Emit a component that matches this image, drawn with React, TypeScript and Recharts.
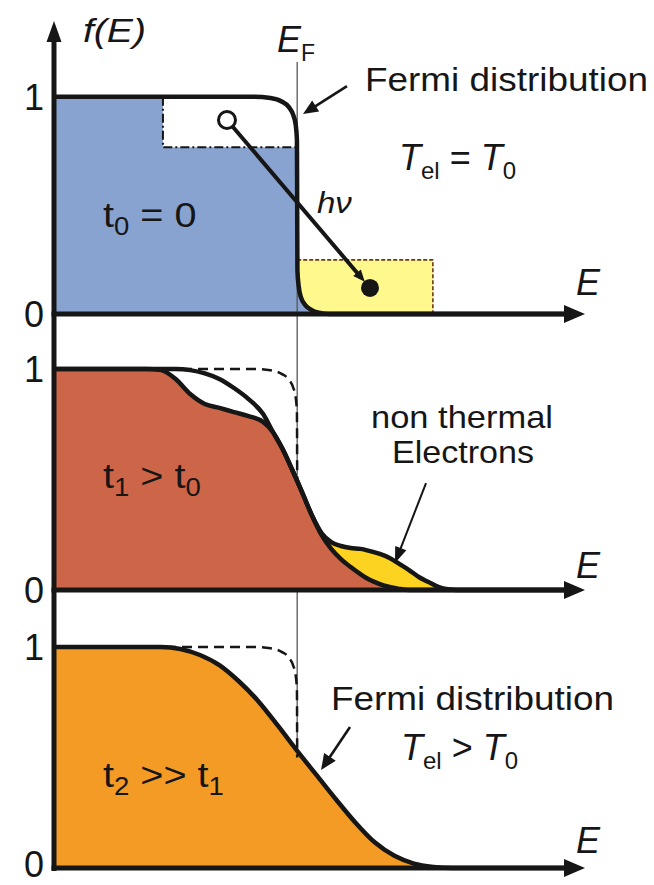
import React from 'react';
import { ComposedChart, Line, Area, XAxis, YAxis, ReferenceLine, ReferenceDot } from 'recharts';

// ---------------- data ----------------
const E_MAX = 11; // energy axis range (E_F = 5)
const E_FERMI = 5;
const Y_TICKS = [0, 1];

// Fermi distribution at T0 (panel 1 solid, panels 2/3 dashed)
const FERMI_T0_E = [0, 4.1, 4.45, 4.68, 4.83, 4.92, 4.97, 4.995, 5.0, 5.005, 5.03, 5.08, 5.17, 5.3, 5.45, 5.65, 10.5];
const FERMI_T0_F = [1, 1, 0.994, 0.978, 0.952, 0.915, 0.87, 0.8, 0.5, 0.2, 0.13, 0.075, 0.04, 0.018, 0.006, 0, 0];

// excitation by the photon: hole box and excited-electron box
const HOLE_E = [2.24, 5.0];
const HOLE_LEVEL = 0.767;
const EXCITED_E = [5.0, 7.79];
const EXCITED_LEVEL = 0.249;
const HOLE_STATE = { E: 3.557, f: 0.893 };
const EXCITED_STATE = { E: 6.497, f: 0.12 };

// panel 2: non-thermal vs thermal distribution
const P2_E = [0, 1.9, 2.2, 2.5, 2.8, 3.1, 3.4, 3.7, 4.0, 4.3, 4.5, 4.7, 4.9, 5.1, 5.3, 5.5, 5.7, 5.9, 6.1, 6.3, 6.5, 6.7, 6.9, 7.1, 7.3, 7.5, 7.7, 7.9, 8.1, 8.3, 8.6, 10.5];
const P2_NONTHERMAL = [1, 1, 0.995, 0.955, 0.887, 0.842, 0.824, 0.805, 0.787, 0.76, 0.715, 0.638, 0.543, 0.443, 0.339, 0.258, 0.217, 0.199, 0.19, 0.186, 0.176, 0.163, 0.145, 0.118, 0.09, 0.059, 0.036, 0.014, 0.003, 0, 0, 0];
const P2_THERMAL = [1, 1, 1, 1, 0.995, 0.98, 0.955, 0.914, 0.864, 0.796, 0.715, 0.638, 0.543, 0.443, 0.339, 0.249, 0.186, 0.14, 0.104, 0.072, 0.045, 0.027, 0.014, 0.005, 0, 0, 0, 0, 0, 0, 0, 0];

// panel 3: hot Fermi distribution
const P3_E = [0, 2.2, 2.6, 3.0, 3.4, 3.8, 4.2, 4.6, 5.0, 5.4, 5.8, 6.2, 6.6, 7.0, 7.4, 7.8, 8.2, 8.6, 10.5];
const P3_HOT = [1, 1, 0.991, 0.964, 0.918, 0.845, 0.755, 0.645, 0.53, 0.42, 0.31, 0.205, 0.115, 0.055, 0.02, 0.005, 0, 0, 0];

// ---------------- layout / style ----------------
const W = 654;
const PLOT_LEFT = 54;
const PLOT_RIGHT = 65;
const TICK_X = 34;
const FONT = '"Liberation Sans", Arial, Helvetica, sans-serif';
const INK = '#161616';
const BLUE = '#88A3CF';
const RED = '#CD6649';
const GOLD = '#FCD320';
const ORANGE = '#F49B26';
const PALE_YELLOW = '#FFF98D';

// top/height: the panel band on the page; extra: overlap of the svg into the next band
const PANELS = [
  { top: 0, height: 330, extra: 16, zeroY: 314, oneY: 96.7, zeroShift: 0 },
  { top: 330, height: 280, extra: 16, zeroY: 590, oneY: 369, zeroShift: 0 },
  { top: 610, height: 275, extra: 0, zeroY: 868, oneY: 647, zeroShift: -4 },
];
type Panel = typeof PANELS[number];
const fAt = (p: Panel, py: number) => (p.zeroY - py) / (p.zeroY - p.oneY);
const eAt = (px: number) => (px - PLOT_LEFT) / ((W - PLOT_RIGHT - PLOT_LEFT) / E_MAX);
const domainOf = (p: Panel): [number, number] => [fAt(p, p.top + p.height + p.extra), fAt(p, p.top)];
const MARGIN = { top: 0, right: PLOT_RIGHT, bottom: 0, left: 0 };

// ---------------- derived tables ----------------
const fermiRows = FERMI_T0_E.map((E, i) => ({ E, v: FERMI_T0_F[i] }));
const blueRows = [
  ...fermiRows.filter((r) => r.E < HOLE_E[0]),
  { E: HOLE_E[0], v: 1 },
  { E: HOLE_E[0], v: HOLE_LEVEL },
  ...fermiRows.filter((r) => r.E > HOLE_E[0]).map((r) => ({ E: r.E, v: Math.min(r.v, HOLE_LEVEL) })),
];
const excitedRows = [{ E: EXCITED_E[0], v: EXCITED_LEVEL }, { E: EXCITED_E[1], v: EXCITED_LEVEL }];
const excitedBorder = [...excitedRows, { E: EXCITED_E[1], v: 0 }];
const holeBorder = [{ E: HOLE_E[0], v: 1 }, { E: HOLE_E[0], v: HOLE_LEVEL }, { E: HOLE_E[1], v: HOLE_LEVEL }];
const dashedRef = fermiRows.filter((r) => r.v >= 0.5);
const p2Rows = P2_E.map((E, i) => ({ E, a: P2_NONTHERMAL[i], b: P2_THERMAL[i] }));
const p3Rows = P3_E.map((E, i) => ({ E, v: P3_HOT[i] }));

// ---------------- helpers ----------------
const arrowShape = (head: number, half: number, width: number, trim = 0) => (props: any) => {
  const { x1, y1, x2, y2 } = props;
  const dx = x2 - x1;
  const dy = y2 - y1;
  const len = Math.hypot(dx, dy) || 1;
  const ux = dx / len;
  const uy = dy / len;
  const tx = x2 - ux * trim;
  const ty = y2 - uy * trim;
  const bx = tx - ux * head;
  const by = ty - uy * head;
  const nx = -uy;
  const ny = ux;
  return (
    <g>
      <line x1={x1} y1={y1} x2={bx + ux * 2} y2={by + uy * 2} stroke={INK} strokeWidth={width} />
      <polygon points={`${tx},${ty} ${bx + nx * half},${by + ny * half} ${bx - nx * half},${by - ny * half}`} fill={INK} />
    </g>
  );
};

type AnnOpt = { anchor?: 'start' | 'middle' | 'end'; sx?: number; size?: number; italic?: boolean; len?: number };
const ann = (node: React.ReactNode, opt: AnnOpt = {}) => (p: any) => (
  <g transform={`translate(${p.cx},${p.cy}) scale(${opt.sx ?? 1},1)`}>
    <text
      x={0}
      y={0}
      textAnchor={opt.anchor ?? 'start'}
      fontFamily={FONT}
      fontSize={opt.size ?? 34}
      fontStyle={opt.italic ? 'italic' : 'normal'}
      fill={INK}
      textLength={opt.len}
      lengthAdjust={opt.len ? 'spacingAndGlyphs' : undefined}
    >
      {node}
    </text>
  </g>
);

const makeTick = (p: Panel) => (props: any) => (
  <text
    x={TICK_X}
    y={props.y + (props.payload.value === 0 ? p.zeroShift : 0)}
    dy="0.36em"
    textAnchor="middle"
    fontFamily={FONT}
    fontSize={36}
    fill={INK}
  >
    {props.payload.value}
  </text>
);

const lineProps = { dot: false, activeDot: false, isAnimationActive: false, strokeLinejoin: 'round' as const };

const sub = (main: string, s: string) => (
  <>
    <tspan fontStyle="italic">{main}</tspan>
    <tspan fontSize={24} dy={9}>{s}</tspan>
  </>
);

export default function App() {
  const [p1, p2, p3] = PANELS;
  const axes = (p: Panel, yFrom: number, yTo: number, yArrow: boolean) => [
    yArrow ? (
      <ReferenceLine key="ya" ifOverflow="visible" segment={[{ x: 0, y: fAt(p, yFrom) }, { x: 0, y: fAt(p, yTo) }]} shape={arrowShape(21, 7.5, 5)} />
    ) : (
      <ReferenceLine key="ya" ifOverflow="visible" segment={[{ x: 0, y: fAt(p, yFrom) }, { x: 0, y: fAt(p, yTo) }]} stroke={INK} strokeWidth={5} />
    ),
    <ReferenceLine key="xa" ifOverflow="visible" segment={[{ x: eAt(51.5), y: 0 }, { x: eAt(585), y: 0 }]} shape={arrowShape(21, 9, 5)} />,
  ];
  const commonAxes = (p: Panel) => [
    <XAxis key="x" type="number" dataKey="E" domain={[0, E_MAX]} allowDataOverflow hide />,
    <YAxis key="y" type="number" domain={domainOf(p)} allowDataOverflow ticks={Y_TICKS} axisLine={false} tickLine={false} width={PLOT_LEFT} tick={makeTick(p)} interval={0} />,
  ];
  const bandBottom = (p: Panel) => p.top + p.height;

  return (
    <div style={{ position: 'absolute', left: 0, top: 0, width: W, height: 885, background: '#fff' }}>
      {/* Panel 1 */}
      <div style={{ position: 'absolute', left: 0, top: p1.top }}>
        <ComposedChart width={W} height={p1.height + p1.extra} margin={MARGIN}>
          {commonAxes(p1)}
          <Area type="linear" data={excitedRows} dataKey="v" fill={PALE_YELLOW} fillOpacity={1} stroke="none" isAnimationActive={false} />
          <Area type="linear" data={blueRows} dataKey="v" fill={BLUE} fillOpacity={1} stroke="none" isAnimationActive={false} />
          <Line type="linear" data={[{ E: E_FERMI, v: fAt(p1, 62) }, { E: E_FERMI, v: fAt(p1, bandBottom(p1)) }]} dataKey="v" stroke="#555" strokeWidth={1.3} {...lineProps} />
          <Line type="linear" data={holeBorder} dataKey="v" stroke={INK} strokeWidth={2} strokeDasharray="9 3 2 3" {...lineProps} />
          <Line type="linear" data={excitedBorder} dataKey="v" stroke="#6a3a18" strokeWidth={1.6} strokeDasharray="4 2" {...lineProps} />
          <Line type="monotone" data={fermiRows} dataKey="v" stroke={INK} strokeWidth={4.5} {...lineProps} />
          {axes(p1, bandBottom(p1), 21, true)}
          <ReferenceLine ifOverflow="visible" segment={[{ x: 6.024, y: 1.049 }, { x: 5.12, y: 0.92 }]} shape={arrowShape(15, 6.5, 2.6)} />
          <ReferenceLine ifOverflow="visible" segment={[{ x: HOLE_STATE.E, y: HOLE_STATE.f }, { x: EXCITED_STATE.E, y: EXCITED_STATE.f }]} shape={arrowShape(12, 5, 4, 8)} />
          <ReferenceDot ifOverflow="visible" x={HOLE_STATE.E} y={HOLE_STATE.f} r={8.5} fill="#fff" stroke={INK} strokeWidth={3} />
          <ReferenceDot ifOverflow="visible" x={EXCITED_STATE.E} y={EXCITED_STATE.f} r={9} fill={INK} stroke="none" />
          <ReferenceDot ifOverflow="visible" x={0.596} y={1.252} shape={ann('f(E)', { italic: true, size: 34, sx: 1.15 })} />
          <ReferenceDot ifOverflow="visible" x={4.585} y={1.206} shape={ann(<><tspan fontStyle="italic">E</tspan><tspan fontSize={23} dy={9}>F</tspan></>, { size: 36 })} />
          <ReferenceDot ifOverflow="visible" x={6.394} y={1.026} shape={ann('Fermi distribution', { size: 34, len: 283 })} />
          <ReferenceDot ifOverflow="visible" x={7.093} y={0.663} shape={ann(<>{sub('T', 'el')}<tspan dy={-9}> = </tspan>{sub('T', '0')}</>, { size: 36 })} />
          <ReferenceDot ifOverflow="visible" x={5.407} y={0.465} shape={ann('hν', { italic: true, size: 30, sx: 1.1 })} />
          <ReferenceDot ifOverflow="visible" x={1.007} y={0.4} shape={ann(<>t<tspan fontSize={25} dy={8}>0</tspan><tspan dy={-8}> = 0</tspan></>, { size: 36, sx: 1.1 })} />
          <ReferenceDot ifOverflow="visible" x={10.733} y={0.087} shape={ann('E', { italic: true, size: 36 })} />
        </ComposedChart>
      </div>

      {/* Panel 2 */}
      <div style={{ position: 'absolute', left: 0, top: p2.top }}>
        <ComposedChart width={W} height={p2.height + p2.extra} margin={MARGIN} data={p2Rows}>
          {commonAxes(p2)}
          <Area type="monotone" dataKey={(d: any) => Math.min(d.a, d.b)} fill={RED} fillOpacity={1} stroke="none" isAnimationActive={false} />
          <Area type="monotone" dataKey={(d: any) => [d.b, Math.max(d.a, d.b)]} fill={GOLD} fillOpacity={1} stroke="none" isAnimationActive={false} />
          <Line
            type="linear"
            data={[
              { E: E_FERMI, v: fAt(p2, p2.top) },
              { E: E_FERMI, v: 0.52 },
              { E: E_FERMI, v: null },
              { E: E_FERMI, v: 0 },
              { E: E_FERMI, v: fAt(p2, bandBottom(p2)) },
            ]}
            dataKey="v"
            stroke="#555"
            strokeWidth={1.3}
            {...lineProps}
          />
          <Line type="monotone" data={dashedRef} dataKey="v" stroke={INK} strokeWidth={2.5} strokeDasharray="10 6" {...lineProps} />
          <Line type="monotone" dataKey="b" stroke={INK} strokeWidth={4.5} {...lineProps} />
          <Line type="monotone" dataKey="a" stroke={INK} strokeWidth={4.5} {...lineProps} />
          {axes(p2, bandBottom(p2), p2.top, false)}
          <ReferenceLine ifOverflow="visible" segment={[{ x: 7.649, y: 0.484 }, { x: 7.011, y: 0.122 }]} shape={arrowShape(16, 6, 2)} />
          <ReferenceDot ifOverflow="visible" x={1.007} y={0.4615} shape={ann(<>t<tspan fontSize={25} dy={8}>1</tspan><tspan dy={-8}> &gt; t</tspan><tspan fontSize={25} dy={8}>0</tspan></>, { size: 36, sx: 1.1 })} />
          <ReferenceDot ifOverflow="visible" x={8.389} y={0.733} shape={ann('non thermal', { anchor: 'middle', size: 32, len: 182 })} />
          <ReferenceDot ifOverflow="visible" x={8.409} y={0.575} shape={ann('Electrons', { anchor: 'middle', size: 32, len: 142 })} />
          <ReferenceDot ifOverflow="visible" x={10.733} y={0.054} shape={ann('E', { italic: true, size: 36 })} />
        </ComposedChart>
      </div>

      {/* Panel 3 */}
      <div style={{ position: 'absolute', left: 0, top: p3.top }}>
        <ComposedChart width={W} height={p3.height + p3.extra} margin={MARGIN} data={p3Rows}>
          {commonAxes(p3)}
          <Area type="monotone" dataKey="v" fill={ORANGE} fillOpacity={1} stroke="none" isAnimationActive={false} />
          <Line type="linear" data={[{ E: E_FERMI, v: fAt(p3, p3.top) }, { E: E_FERMI, v: 0.54 }]} dataKey="v" stroke="#555" strokeWidth={1.3} {...lineProps} />
          <Line type="monotone" data={dashedRef} dataKey="v" stroke={INK} strokeWidth={2.5} strokeDasharray="10 6" {...lineProps} />
          <Line type="monotone" dataKey="v" stroke={INK} strokeWidth={4.5} {...lineProps} />
          {axes(p3, p3.top, 871, false)}
          <ReferenceLine ifOverflow="visible" segment={[{ x: 6.086, y: 0.638 }, { x: 5.49, y: 0.443 }]} shape={arrowShape(16, 7, 2.6)} />
          <ReferenceDot ifOverflow="visible" x={1.007} y={0.3665} shape={ann(<>t<tspan fontSize={25} dy={8}>2</tspan><tspan dy={-8}> &gt;&gt; t</tspan><tspan fontSize={25} dy={8}>1</tspan></>, { size: 36, sx: 1.1 })} />
          <ReferenceDot ifOverflow="visible" x={5.695} y={0.715} shape={ann('Fermi distribution', { size: 34, len: 283 })} />
          <ReferenceDot ifOverflow="visible" x={7.135} y={0.489} shape={ann(<>{sub('T', 'el')}<tspan dy={-9}> &gt; </tspan>{sub('T', '0')}</>, { size: 36 })} />
          <ReferenceDot ifOverflow="visible" x={10.733} y={0.068} shape={ann('E', { italic: true, size: 36 })} />
        </ComposedChart>
      </div>
    </div>
  );
}
